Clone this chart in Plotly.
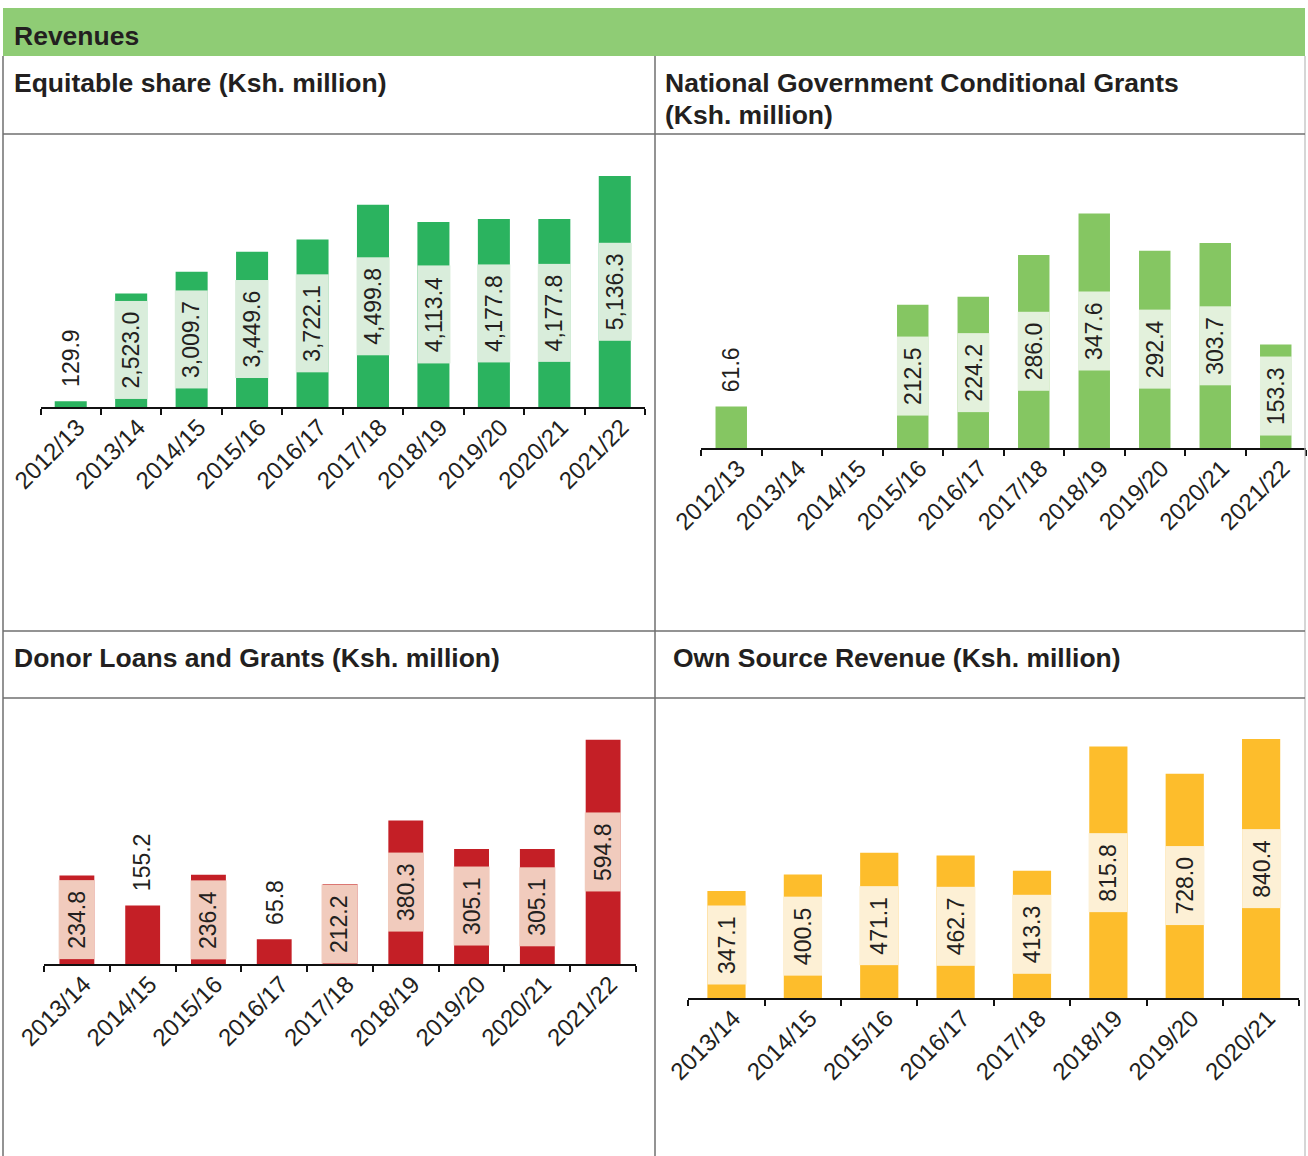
import plotly.graph_objects as go

# ---------------- data ----------------
eq_cats = ["2012/13", "2013/14", "2014/15", "2015/16", "2016/17", "2017/18",
           "2018/19", "2019/20", "2020/21", "2021/22"]
eq_vals = [129.9, 2523.0, 3009.7, 3449.6, 3722.1, 4499.8, 4113.4, 4177.8, 4177.8, 5136.3]

ng_cats = ["2012/13", "2013/14", "2014/15", "2015/16", "2016/17", "2017/18",
           "2018/19", "2019/20", "2020/21", "2021/22"]
ng_vals = [61.6, None, None, 212.5, 224.2, 286.0, 347.6, 292.4, 303.7, 153.3]

dn_cats = ["2013/14", "2014/15", "2015/16", "2016/17", "2017/18",
           "2018/19", "2019/20", "2020/21", "2021/22"]
dn_vals = [234.8, 155.2, 236.4, 65.8, 212.2, 380.3, 305.1, 305.1, 594.8]

os_cats = ["2013/14", "2014/15", "2015/16", "2016/17", "2017/18",
           "2018/19", "2019/20", "2020/21"]
os_vals = [347.1, 400.5, 471.1, 462.7, 413.3, 815.8, 728.0, 840.4]

header_title = "Revenues"
titles = ["Equitable share (Ksh. million)",
          ["National Government Conditional Grants", "(Ksh. million)"],
          "Donor Loans and Grants (Ksh. million)",
          "Own Source Revenue (Ksh. million)"]

# ---------------- layout constants ----------------
W, H = 1308, 1156
FONT = "Liberation Sans, Arial, Helvetica, sans-serif"
TXT = "#231f20"
LINE = "#6f6f6f"

def fx(px):
    return px / W

def fy(py):
    return 1 - py / H

panels = [
    dict(cats=eq_cats, vals=eq_vals, x0=40.5, x1=645, base=407, top=150, maxpx=231,
         bw=0.53, color="#2bb35f", light="#d9eddb"),
    dict(cats=ng_cats, vals=ng_vals, x0=701, x1=1306, base=448, top=190, maxpx=234.5,
         bw=0.52, color="#85c662", light="#e3f1dc"),
    dict(cats=dn_cats, vals=dn_vals, x0=44, x1=636, base=964, top=712, maxpx=224.3,
         bw=0.53, color="#c41f26", light="#f1cbbd"),
    dict(cats=os_cats, vals=os_vals, x0=688.3, x1=1299.3, base=998, top=712, maxpx=259,
         bw=0.5, color="#fdbd2c", light="#fdf0d5"),
]

LBL_SIZE = 23
TICK_SIZE = 24

def text_px(s, size):
    w = 0.0
    for ch in s:
        w += 0.556 if ch.isdigit() else 0.278
    return w * size

fig = go.Figure()
annotations = []
layout_axes = {}

for i, p in enumerate(panels):
    n = i + 1
    xa = "x" if n == 1 else f"x{n}"
    ya = "y" if n == 1 else f"y{n}"
    vmax = max(v for v in p["vals"] if v is not None)
    R = vmax * (p["base"] - p["top"]) / p["maxpx"]
    px_per_unit = (p["base"] - p["top"]) / R
    cat_px = (p["x1"] - p["x0"]) / len(p["cats"])
    bar_px = cat_px * p["bw"]

    fig.add_trace(go.Bar(
        x=p["cats"], y=p["vals"], xaxis=xa, yaxis=ya,
        marker=dict(color=p["color"], line=dict(width=0)),
        width=p["bw"], showlegend=False, hoverinfo="x+y",
    ))

    layout_axes[f"xaxis{'' if n == 1 else n}"] = dict(
        domain=[fx(p["x0"]), fx(p["x1"])], anchor=ya, automargin=False,
        type="category", categoryorder="array", categoryarray=p["cats"],
        range=[-0.5, len(p["cats"]) - 0.5],
        showline=True, linecolor="#111111", linewidth=1.6,
        ticks="outside", ticklen=6, tickwidth=1.6, tickcolor="#111111",
        tickson="boundaries", tickangle=-45, ticklabelshift=7, ticklabelstandoff=-5,
        tickfont=dict(size=TICK_SIZE, color=TXT, family=FONT),
        showgrid=False, zeroline=False, fixedrange=True,
    )
    layout_axes[f"yaxis{'' if n == 1 else n}"] = dict(
        domain=[fy(p["base"]), fy(p["top"])], anchor=xa, automargin=False,
        range=[0, R], visible=False, fixedrange=True,
    )

    for c, v in zip(p["cats"], p["vals"]):
        if v is None:
            continue
        label = f"{v:,.1f}"
        box_len = text_px(label, LBL_SIZE) + 20
        h_px = v * px_per_unit
        if box_len <= h_px + 2:
            annotations.append(dict(
                x=c, y=v / 2, xref=xa, yref=ya, text=label, textangle=-90,
                showarrow=False, font=dict(size=LBL_SIZE, color=TXT, family=FONT),
                bgcolor=p["light"], width=box_len, height=bar_px, borderpad=0,
                align="center", valign="middle", xanchor="center", yanchor="middle",
            ))
        else:
            annotations.append(dict(
                x=c, y=v, xref=xa, yref=ya, text=label, textangle=-90,
                showarrow=False, font=dict(size=LBL_SIZE, color=TXT, family=FONT),
                xanchor="center", yanchor="bottom", yshift=12,
            ))

# ---------------- frame, header, titles ----------------
shapes = [
    dict(type="rect", xref="paper", yref="paper", x0=fx(3), x1=fx(1305), y0=fy(56), y1=fy(8),
         fillcolor="#8fcc75", line=dict(width=0), layer="below"),
    dict(type="line", xref="paper", yref="paper", x0=fx(3), x1=fx(3), y0=fy(56), y1=fy(1156),
         line=dict(color=LINE, width=1.5)),
    dict(type="line", xref="paper", yref="paper", x0=fx(1305), x1=fx(1305), y0=fy(56), y1=fy(1156),
         line=dict(color="#bbbbbb", width=1.2)),
    dict(type="line", xref="paper", yref="paper", x0=fx(655), x1=fx(655), y0=fy(56), y1=fy(1156),
         line=dict(color=LINE, width=1.5)),
    dict(type="line", xref="paper", yref="paper", x0=fx(3), x1=fx(1305), y0=fy(134), y1=fy(134),
         line=dict(color=LINE, width=1.5)),
    dict(type="line", xref="paper", yref="paper", x0=fx(3), x1=fx(1305), y0=fy(631), y1=fy(631),
         line=dict(color=LINE, width=1.5)),
    dict(type="line", xref="paper", yref="paper", x0=fx(3), x1=fx(1305), y0=fy(698), y1=fy(698),
         line=dict(color=LINE, width=1.5)),
]

TFONT = dict(size=26.5, color=TXT, family=FONT)

def title(text, px, py):
    return dict(x=fx(px), y=fy(py), xref="paper", yref="paper", text=f"<b>{text}</b>",
                showarrow=False, xanchor="left", yanchor="middle", font=TFONT)

annotations += [
    title(header_title, 12, 36),
    title(titles[0], 12, 83),
    title(titles[1][0], 663, 83),
    title(titles[1][1], 663, 115),
    title(titles[2], 12, 658),
    title(titles[3], 671, 658),
]

fig.update_layout(
    width=W, height=H, margin=dict(l=0, r=0, t=0, b=0, autoexpand=False),
    paper_bgcolor="white", plot_bgcolor="rgba(0,0,0,0)",
    bargap=0.47, showlegend=False,
    font=dict(family=FONT, color=TXT),
    shapes=shapes, annotations=annotations,
    **layout_axes,
)

fig.write_html("out.html", config={"displayModeBar": False},
               post_script="document.body.style.margin='0';")
